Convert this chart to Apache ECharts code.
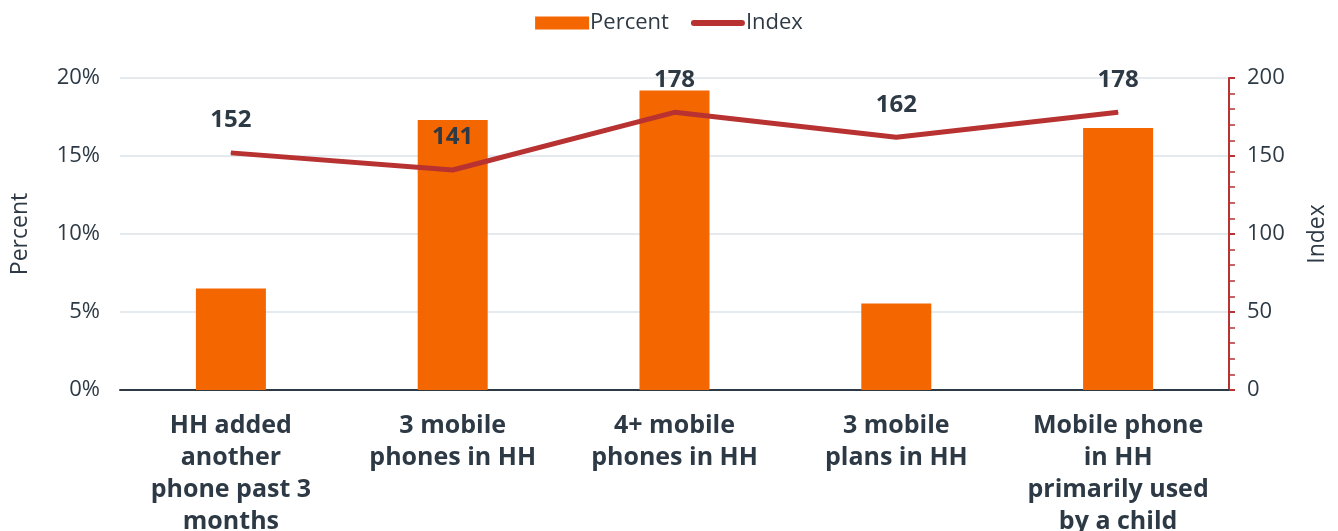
<!DOCTYPE html>
<html>
<head>
<meta charset="utf-8">
<script src="https://cdn.jsdelivr.net/npm/echarts@6/dist/echarts.min.js"></script>
<style>
* { margin: 0; padding: 0; }
body { background: #fff; }
#chart { width: 1338px; height: 531px; }
</style>
</head>
<body>
<div id="chart"></div>
<script>
var categories = [
  "HH added\nanother\nphone past 3\nmonths",
  "3 mobile\nphones in HH",
  "4+ mobile\nphones in HH",
  "3 mobile\nplans in HH",
  "Mobile phone\nin HH\nprimarily used\nby a child"
];
var percentValues = [6.5, 17.3, 19.2, 5.55, 16.8];
var indexValues = [152, 141, 178, 162, 178];
var leftTicks = [0, 5, 10, 15, 20];

var font = "Open Sans";
var textColor = "#2d3a45";

echarts.init(document.getElementById("chart")).setOption({
  textStyle: { fontFamily: font },
  legend: {
    top: 7,
    left: "center",
    itemGap: 22,
    itemWidth: 54,
    itemHeight: 13,
    textStyle: { fontSize: 22, color: textColor, fontFamily: font, padding: [0, 0, 0, -4] },
    data: [
      { name: "Percent", icon: "rect" },
      { name: "Index", icon: "path://M3,0 H51 A3,3 0 0 1 51,6 H3 A3,3 0 0 1 3,0 Z" }
    ]
  },
  grid: { left: 120, right: 109, top: 78, bottom: 141, containLabel: false, outerBoundsMode: "none" },
  xAxis: {
    type: "category",
    data: categories,
    axisLine: { lineStyle: { color: textColor, width: 2 } },
    axisTick: { show: false },
    axisLabel: {
      interval: 0,
      margin: 20,
      fontSize: 25,
      fontWeight: "bold",
      lineHeight: 32,
      color: textColor,
      fontFamily: font
    }
  },
  yAxis: [
    {
      type: "value",
      name: "Percent",
      nameLocation: "middle",
      nameGap: 88,
      nameTextStyle: { fontSize: 23, color: textColor },
      min: 0, max: 20, interval: 5,
      axisLine: { show: false },
      axisTick: { show: false },
      axisLabel: {
        fontSize: 22, color: textColor, margin: 20,
        formatter: function (v) { return leftTicks.indexOf(v) >= 0 ? v + "%" : ""; }
      },
      splitLine: { lineStyle: { color: "#dde3e8", width: 1.5 } }
    },
    {
      type: "value",
      name: "Index",
      nameLocation: "middle",
      nameGap: 77,
      nameTextStyle: { fontSize: 23, color: textColor },
      min: 0, max: 200, interval: 50,
      position: "right",
      axisLine: { show: true, lineStyle: { color: "#b83232", width: 2 } },
      axisTick: { show: true, inside: false, length: 6, lineStyle: { color: "#b83232", width: 2 } },
      minorTick: { show: true, splitNumber: 5, length: 6, lineStyle: { color: "#b83232", width: 1.5 } },
      axisLabel: { fontSize: 22, color: textColor, margin: 18 },
      splitLine: { show: false }
    }
  ],
  series: [
    {
      name: "Percent",
      type: "bar",
      data: percentValues,
      barWidth: 70,
      itemStyle: { color: "#f46600" }
    },
    {
      name: "Index",
      type: "line",
      yAxisIndex: 1,
      data: indexValues,
      symbol: "circle",
      symbolSize: 1,
      showSymbol: true,
      lineStyle: { color: "#b83232", width: 5 },
      itemStyle: { color: "#b83232" },
      label: {
        show: true,
        position: "top",
        distance: 20,
        fontSize: 24,
        fontWeight: "bold",
        color: textColor,
        fontFamily: font
      },
      z: 3
    }
  ]
});
</script>
</body>
</html>
